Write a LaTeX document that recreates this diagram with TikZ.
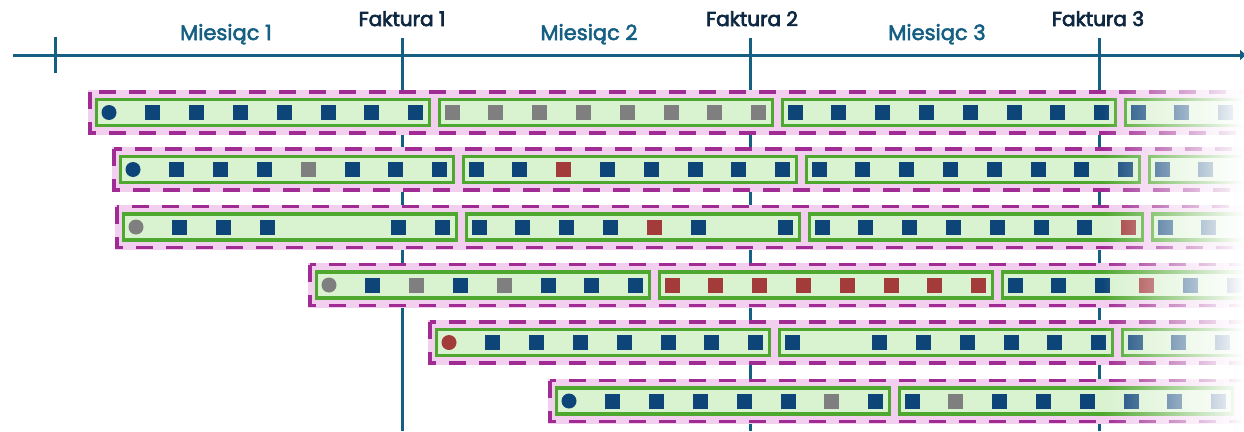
\documentclass[tikz,border=0pt]{standalone}
\usepackage{fontspec}
\setmainfont{Poppins}
\newfontfamily\miesfont{Poppins}[FakeBold=2.6]
\newfontfamily\faktfont{Poppins}[FakeBold=3.4]
\usetikzlibrary{fadings,arrows.meta}
\definecolor{axisc}{HTML}{156082}
\definecolor{darkt}{HTML}{0E2841}
\definecolor{mkb}{HTML}{0D4579}
\definecolor{mkg}{HTML}{7F7F7F}
\definecolor{mkr}{HTML}{A33B3B}
\definecolor{gstroke}{HTML}{4EA72E}
\definecolor{gfill}{HTML}{D9F2D0}
\definecolor{pfill}{HTML}{F2CEEF}
\definecolor{pdash}{HTML}{A02B93}
\tikzfading[name=fadeR, left color=transparent!100, right color=transparent!0]
\tikzset{
  axisline/.style={draw=axisc, line width=3pt},
  mies/.style={text=axisc, font=\miesfont\fontsize{21}{25}\selectfont, anchor=base, inner sep=0pt},
  fakt/.style={text=darkt, font=\faktfont\fontsize{20}{24}\selectfont, anchor=base, inner sep=0pt},
  pinkbox/.style={draw=pdash, line width=3.5pt, dash pattern=on 17pt off 13pt},
  greenbox/.style={draw=gstroke, fill=gfill, line width=3.5pt},
  qb/.style={fill=mkb}, qg/.style={fill=mkg}, qr/.style={fill=mkr}, qn/.style={},
}
\newcommand\prow[2]{%
  \fill[pfill] (#2-21,#1-22.5) rectangle (1262,#1+22.5);
  \draw[pinkbox] (#2-19,#1-20.5) rectangle (1262,#1+20.5);}
\newcommand\gbox[3]{%
  \draw[greenbox] (#2-12.5,#1-13) rectangle (#2+320.6,#1+13);
  \foreach \s [count=\k from 0] in {#3}
    \path[\s] (#2+43.8*\k-7.5,#1-7.5) rectangle ++(15,15);}
\newcommand\startdot[3]{\fill[#3] (#2,#1) circle (7.5);}
\begin{document}
\begin{tikzpicture}[x=1pt,y=-1pt]
\useasboundingbox (0,0) rectangle (1244,431);
\clip (0,0) rectangle (1244,431);
% axis
\coordinate (axS) at (13,55);
\coordinate (axE) at (1246,55);
\draw[axisline, -{Triangle[length=6pt,width=10pt]}] (axS) -- (axE);
\coordinate (t0a) at (55,37); \coordinate (t0b) at (55,73);
\draw[axisline] (t0a) -- (t0b);
\coordinate (f1a) at (402,38); \coordinate (f1b) at (402,431);
\coordinate (f2a) at (750,38); \coordinate (f2b) at (750,431);
\coordinate (f3a) at (1099,38); \coordinate (f3b) at (1099,431);
\draw[axisline] (f1a) -- (f1b);
\draw[axisline] (f2a) -- (f2b);
\draw[axisline] (f3a) -- (f3b);
% labels
\node[mies] (m1) at (226,40) {Miesiąc 1};
\node[mies] (m2) at (589,40) {Miesiąc 2};
\node[mies] (m3) at (937,40) {Miesiąc 3};
\node[fakt] (k1) at (402,26) {Faktura 1};
\node[fakt] (k2) at (752,26) {Faktura 2};
\node[fakt] (k3) at (1098,26) {Faktura 3};
% row 1
\prow{112.5}{109}
\gbox{112.5}{109}{qn,qb,qb,qb,qb,qb,qb,qb}\startdot{112.5}{109}{mkb}
\gbox{112.5}{452}{qg,qg,qg,qg,qg,qg,qg,qg}
\gbox{112.5}{795}{qb,qb,qb,qb,qb,qb,qb,qb}
\gbox{112.5}{1138}{qb,qb,qb,qb,qb,qb,qb,qb}
% row 2
\prow{169.5}{133}
\gbox{169.5}{133}{qn,qb,qb,qb,qg,qb,qb,qb}\startdot{169.5}{133}{mkb}
\gbox{169.5}{476}{qb,qb,qr,qb,qb,qb,qb,qb}
\gbox{169.5}{819}{qb,qb,qb,qb,qb,qb,qb,qb}
\gbox{169.5}{1162}{qb,qb,qb,qb,qb,qb,qb,qb}
% row 3
\prow{227}{136}
\gbox{227}{136}{qn,qb,qb,qb,qn,qn,qb,qb}\startdot{227}{136}{mkg}
\gbox{227}{479}{qb,qb,qb,qb,qr,qb,qn,qb}
\gbox{227}{822}{qb,qb,qb,qb,qb,qb,qb,qr}
\gbox{227}{1165}{qb,qb,qb,qb,qb,qb,qb,qb}
% row 4
\prow{285}{329}
\gbox{285}{329}{qn,qb,qg,qb,qg,qb,qb,qb}\startdot{285}{329}{mkg}
\gbox{285}{672}{qr,qr,qr,qr,qr,qr,qr,qr}
\gbox{285}{1015}{qb,qb,qb,qr,qb,qb,qb,qb}
% row 5
\prow{342.5}{449}
\gbox{342.5}{449}{qn,qb,qb,qb,qb,qb,qb,qb}\startdot{342.5}{449}{mkr}
\gbox{342.5}{792}{qb,qn,qb,qb,qb,qb,qb,qb}
\gbox{342.5}{1135}{qb,qb,qb,qb,qb,qb,qb,qb}
% row 6
\prow{401}{569}
\gbox{401}{569}{qn,qb,qb,qb,qb,qb,qg,qb}\startdot{401}{569}{mkb}
\gbox{401}{912}{qb,qg,qb,qb,qb,qb,qb,qb}
% fade to white on the right
\fill[white, path fading=fadeR] (1102,84) rectangle (1244,431);
\end{tikzpicture}
\end{document}
